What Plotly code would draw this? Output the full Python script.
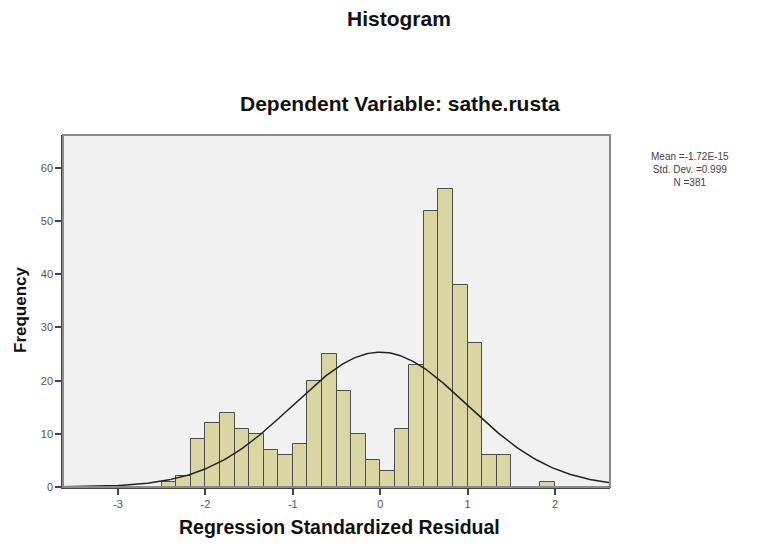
import math
import plotly.graph_objects as go

# ---- data ----
bin_start = -2.5
bin_width = 1 / 6
counts = [1, 2, 9, 12, 14, 11, 10, 7, 6, 8, 20, 25, 18, 10, 5, 3, 11, 23,
          52, 56, 38, 27, 6, 6, 0, 0, 1]
stat_mean = -1.72e-15
stat_sd = 0.999
stat_n = 381
x_tick_vals = [-3, -2, -1, 0, 1, 2]
y_tick_vals = [0, 10, 20, 30, 40, 50, 60]

centers = [bin_start + bin_width * (i + 0.5) for i in range(len(counts))]

# normal curve implied by the reported mean / sd / N
x_min, x_max = -3.63, 2.63
nx = 300
curve_x = [x_min + (x_max - x_min) * i / (nx - 1) for i in range(nx)]
curve_y = [stat_n * bin_width / (stat_sd * math.sqrt(2 * math.pi)) *
           math.exp(-0.5 * ((v - stat_mean) / stat_sd) ** 2) for v in curve_x]

FONT = "Liberation Sans, Arial, sans-serif"

# page body has an 8px margin, so shift the figure layout up/left by 8px
OFF = 8
W, H = 762, 547
L, R, T, B = 63 - OFF, 152 + OFF, 135 - OFF, 60 + OFF
pw = W - L - R
ph = H - T - B


def px(x, y):
    """page pixel -> paper coords"""
    fx, fy = x - OFF, y - OFF
    return (fx - L) / pw, (H - fy - B) / ph


fig = go.Figure()
fig.add_trace(go.Bar(
    x=centers, y=counts, width=bin_width,
    marker=dict(color="#d9d6a3", line=dict(color="#4d4d4d", width=1)),
    showlegend=False, hoverinfo="x+y"))
fig.add_trace(go.Scatter(
    x=curve_x, y=curve_y, mode="lines",
    line=dict(color="#222222", width=1.5), showlegend=False))

annots = []


def add_text(text, x, y, size, color="#111", angle=0):
    ax, ay = px(x, y)
    annots.append(dict(text=text, x=ax, y=ay, xref="paper", yref="paper",
                       xanchor="center", yanchor="middle", showarrow=False,
                       textangle=angle, align="center",
                       font=dict(size=size, color=color, family=FONT)))


add_text("<b>Histogram</b>", 399, 19, 21)
add_text("<b>Dependent Variable: sathe.rusta</b>", 400, 104, 21)
add_text("<b>Regression Standardized Residual</b>", 339, 527, 19.5)
add_text("<b>Frequency</b>", 20, 310, 17, angle=-90)
add_text("Mean =-1.72E-15<br>Std. Dev. =0.999<br>N =381", 690, 169, 10, color="#444")

fig.update_layout(
    width=W, height=H,
    margin=dict(l=L, r=R, t=T, b=B),
    paper_bgcolor="white", plot_bgcolor="#f1f1f1",
    bargap=0,
    font=dict(family=FONT, color="#333"),
    xaxis=dict(range=[x_min, x_max], tickvals=x_tick_vals,
               ticktext=[str(v) for v in x_tick_vals],
               showgrid=False, zeroline=False, showline=True,
               linecolor="#444", linewidth=1.5,
               ticks="outside", ticklen=6, tickcolor="#444", tickwidth=1.5,
               tickfont=dict(size=11, color="#555")),
    yaxis=dict(range=[0, 66.2], tickvals=y_tick_vals,
               showgrid=False, zeroline=False, showline=True,
               linecolor="#444", linewidth=1.5,
               ticks="outside", ticklen=6, tickcolor="#444", tickwidth=1.5,
               tickfont=dict(size=11, color="#555")),
    shapes=[dict(type="rect", xref="paper", yref="paper", x0=0, y0=0, x1=1, y1=1,
                 line=dict(color="#8a8a8a", width=2), layer="above")],
    annotations=annots,
)

fig.write_html("out.html")
